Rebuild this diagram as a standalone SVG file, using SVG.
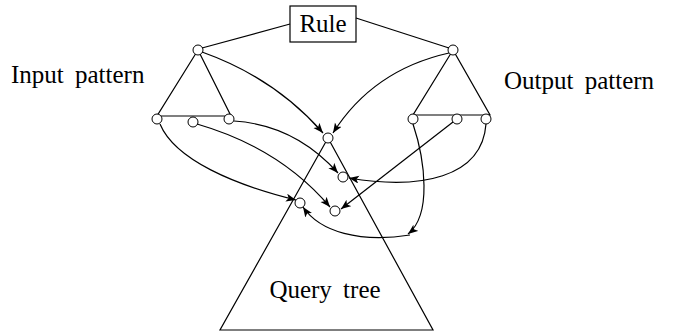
<svg xmlns="http://www.w3.org/2000/svg" width="673" height="335" viewBox="0 0 673 335">
<defs>
<marker id="ah" markerUnits="userSpaceOnUse" markerWidth="12" markerHeight="10" refX="10" refY="4" orient="auto">
<path d="M0,0 L10,4 L0,8 L2.5,4 Z" fill="#000"/>
</marker>
<style>
.ln{fill:none;stroke:#000;stroke-width:1.2}
.ar{fill:none;stroke:#000;stroke-width:1.2;marker-end:url(#ah)}
.nd{fill:#fff;stroke:#000;stroke-width:1}
.t{font-family:"Liberation Serif","Times New Roman",serif;font-size:25px;fill:#000}
</style>
</defs>
<rect width="673" height="335" fill="#fff"/>
<g id="rule">
<rect x="290" y="6" width="66" height="36" fill="#fff" stroke="#000" stroke-width="1.2"/>
<text class="t" x="323" y="32" text-anchor="middle">Rule</text>
</g>
<g id="input-pattern">
<path class="ln" d="M198,50 L157,116 L231,116 Z"/>
<circle class="nd" cx="198" cy="50" r="5"/>
<circle class="nd" cx="157" cy="119" r="5"/>
<circle class="nd" cx="193" cy="122" r="5"/>
<circle class="nd" cx="229" cy="119" r="5"/>
<text class="t" x="11" y="83" word-spacing="5">Input pattern</text>
</g>
<g id="output-pattern">
<path class="ln" d="M453,50 L413,115 L490,115 Z"/>
<circle class="nd" cx="453" cy="50" r="5"/>
<circle class="nd" cx="413" cy="119" r="5"/>
<circle class="nd" cx="457" cy="119" r="5"/>
<circle class="nd" cx="486" cy="119" r="5"/>
<text class="t" x="504" y="89" word-spacing="5">Output pattern</text>
</g>
<g id="query-tree">
<path class="ln" d="M328,138 L220,330 L433,330 Z"/>
<circle class="nd" cx="328" cy="138" r="5"/>
<circle class="nd" cx="343" cy="177" r="5"/>
<circle class="nd" cx="300" cy="203" r="5"/>
<circle class="nd" cx="335" cy="211" r="5"/>
<text class="t" x="325" y="298" text-anchor="middle" word-spacing="5">Query tree</text>
</g>
<g id="connectors">
<path class="ln" d="M290,24 L202,48"/>
<path class="ln" d="M356,18 L449,48"/>
<path class="ar" d="M202,52 Q275,78 323,133"/>
<path class="ar" d="M449,53 Q373,70 333,133"/>
<path class="ar" d="M160,124 C175,160 235,185 296,200"/>
<path class="ar" d="M197,124 Q280,148 330,207"/>
<path class="ar" d="M234,121 Q295,125 338,173"/>
<path class="ar" d="M453,122 L341,209"/>
<path class="ar" d="M486,124 C482,178 420,190 349,178"/>
<path class="ar" d="M413,124 C425,160 432,215 408,234"/>
<path class="ar" d="M410,235 C360,243 320,232 303,207"/>
</g>
</svg>
